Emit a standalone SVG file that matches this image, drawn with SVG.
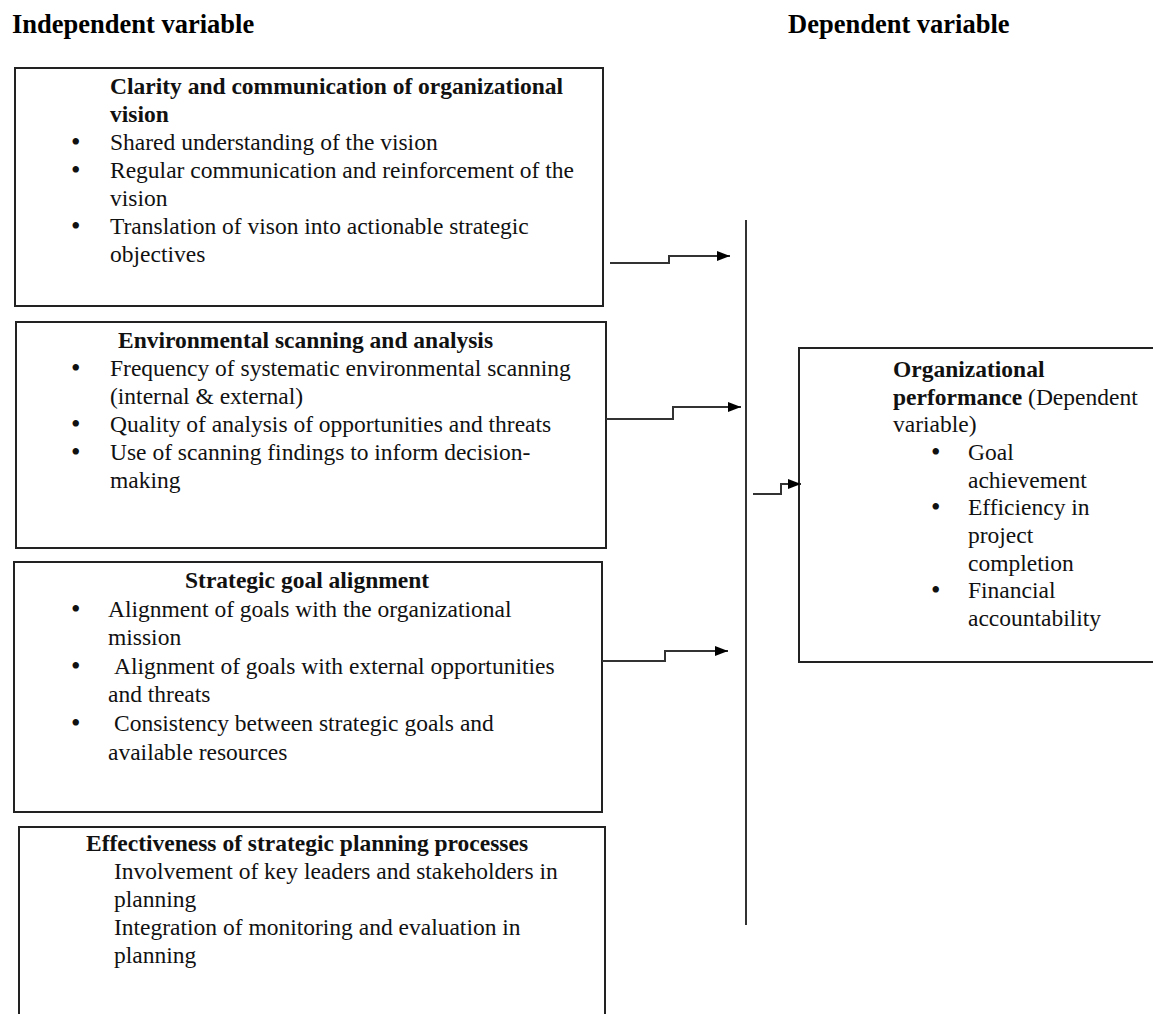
<svg xmlns="http://www.w3.org/2000/svg" width="1153" height="1014" viewBox="0 0 1153 1014">
<style>
text{font-family:"Liberation Serif","Times New Roman",serif;fill:#111}
.hd{font-size:26.5px;font-weight:bold;fill:#000}
.t{font-size:23.5px}
.bl{font-size:27px}
.b{font-weight:bold}
.box{fill:#fff;stroke:#222;stroke-width:2}
.con{fill:none;stroke:#333;stroke-width:2}
</style>
<defs>
<marker id="ah" markerUnits="userSpaceOnUse" markerWidth="14" markerHeight="12" refX="13" refY="6" orient="auto">
<path d="M0,1 L13,6 L0,11 z" fill="#000"/>
</marker>
</defs>
<text class="hd" x="12" y="33">Independent variable</text>
<text class="hd" x="788" y="33">Dependent variable</text>

<g id="node-vision">
<rect class="box" x="15" y="68" width="588" height="238"/>
<text class="t b" x="110" y="94">Clarity and communication of organizational</text>
<text class="t b" x="110" y="122">vision</text>
<text class="bl" x="71" y="151">•</text><text class="t" x="110" y="150">Shared understanding of the vision</text>
<text class="bl" x="71" y="179">•</text><text class="t" x="110" y="178">Regular communication and reinforcement of the</text>
<text class="t" x="110" y="206">vision</text>
<text class="bl" x="71" y="235">•</text><text class="t" x="110" y="234">Translation of vison into actionable strategic</text>
<text class="t" x="110" y="262">objectives</text>
</g>

<g id="node-scanning">
<rect class="box" x="16" y="322" width="590" height="226"/>
<text class="t b" x="118" y="348">Environmental scanning and analysis</text>
<text class="bl" x="71" y="377">•</text><text class="t" x="110" y="376">Frequency of systematic environmental scanning</text>
<text class="t" x="110" y="404">(internal &amp; external)</text>
<text class="bl" x="71" y="433">•</text><text class="t" x="110" y="432">Quality of analysis of opportunities and threats</text>
<text class="bl" x="71" y="461">•</text><text class="t" x="110" y="460">Use of scanning findings to inform decision-</text>
<text class="t" x="110" y="488">making</text>
</g>

<g id="node-goal">
<rect class="box" x="14" y="562" width="588" height="250"/>
<text class="t b" x="185" y="588">Strategic goal alignment</text>
<text class="bl" x="71" y="618">•</text><text class="t" x="108" y="617">Alignment of goals with the organizational</text>
<text class="t" x="108" y="645">mission</text>
<text class="bl" x="71" y="675">•</text><text class="t" x="114" y="674">Alignment of goals with external opportunities</text>
<text class="t" x="108" y="702">and threats</text>
<text class="bl" x="71" y="732">•</text><text class="t" x="114" y="731">Consistency between strategic goals and</text>
<text class="t" x="108" y="760">available resources</text>
</g>

<g id="node-planning">
<rect class="box" x="19" y="827" width="586" height="200"/>
<text class="t b" x="86" y="851">Effectiveness of strategic planning processes</text>
<text class="t" x="114" y="879">Involvement of key leaders and stakeholders in</text>
<text class="t" x="114" y="907">planning</text>
<text class="t" x="114" y="935">Integration of monitoring and evaluation in</text>
<text class="t" x="114" y="963">planning</text>
</g>

<g id="node-performance">
<rect class="box" x="799" y="348" width="370" height="314"/>
<text class="t b" x="893" y="377">Organizational</text>
<text class="t" x="893" y="405"><tspan class="b">performance</tspan> (Dependent</text>
<text class="t" x="893" y="432">variable)</text>
<text class="bl" x="931" y="461">•</text><text class="t" x="968" y="460">Goal</text>
<text class="t" x="968" y="488">achievement</text>
<text class="bl" x="931" y="516">•</text><text class="t" x="968" y="515">Efficiency in</text>
<text class="t" x="968" y="543">project</text>
<text class="t" x="968" y="571">completion</text>
<text class="bl" x="931" y="599">•</text><text class="t" x="968" y="598">Financial</text>
<text class="t" x="968" y="626">accountability</text>
</g>

<g id="connectors">
<path class="con" d="M746,220 V925" stroke="#555"/>
<path class="con" d="M610,263 H669 V256 H730" marker-end="url(#ah)"/>
<path class="con" d="M606,419 H673 V407 H741" marker-end="url(#ah)"/>
<path class="con" d="M602,661 H665 V651 H728" marker-end="url(#ah)"/>
<path class="con" d="M753,494 H781 V484 H801" marker-end="url(#ah)"/>
</g>
</svg>
